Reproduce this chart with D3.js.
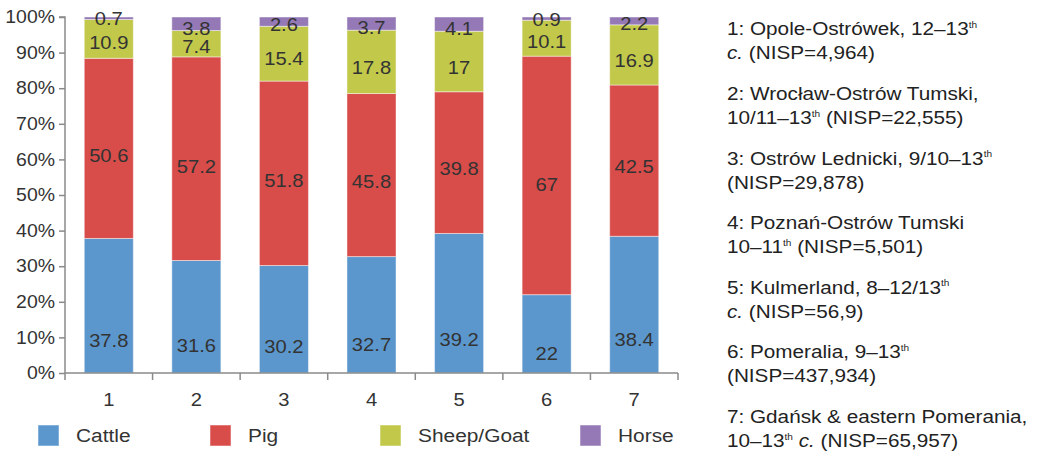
<!DOCTYPE html>
<html>
<head>
<meta charset="utf-8">
<script src="https://cdn.jsdelivr.net/npm/d3@7/dist/d3.min.js"></script>
<style>
  html, body { margin: 0; padding: 0; background: #fff; }
  svg { display: block; font-family: "Liberation Sans", Arial, sans-serif; }
</style>
</head>
<body>
<svg id="chart" width="1037" height="451"></svg>
<script>
const categories = ["1", "2", "3", "4", "5", "6", "7"];
const seriesNames = ["Cattle", "Pig", "Sheep/Goat", "Horse"];
const cattle = [37.8, 31.6, 30.2, 32.7, 39.2, 22, 38.4];
const pig = [50.6, 57.2, 51.8, 45.8, 39.8, 67, 42.5];
const sheepGoat = [10.9, 7.4, 15.4, 17.8, 17, 10.1, 16.9];
const horse = [0.7, 3.8, 2.6, 3.7, 4.1, 0.9, 2.2];
const yTicks = [0, 10, 20, 30, 40, 50, 60, 70, 80, 90, 100];
const siteNotes = [
  [[["1: Opole-Ostrówek, 12–13", ""], ["th", "sup"]], [["c.", "i"], [" (NISP=4,964)", ""]]],
  [[["2: Wrocław-Ostrów Tumski,", ""]], [["10/11–13", ""], ["th", "sup"], [" (NISP=22,555)", ""]]],
  [[["3: Ostrów Lednicki, 9/10–13", ""], ["th", "sup"]], [["(NISP=29,878)", ""]]],
  [[["4: Poznań-Ostrów Tumski", ""]], [["10–11", ""], ["th", "sup"], [" (NISP=5,501)", ""]]],
  [[["5: Kulmerland, 8–12/13", ""], ["th", "sup"]], [["c.", "i"], [" (NISP=56,9)", ""]]],
  [[["6: Pomeralia, 9–13", ""], ["th", "sup"]], [["(NISP=437,934)", ""]]],
  [[["7: Gdańsk & eastern Pomerania,", ""]], [["10–13", ""], ["th", "sup"], [" ", ""], ["c.", "i"], [" (NISP=65,957)", ""]]]
];

const colors = ["#5b97cd", "#d84c4a", "#c1c84a", "#9479b6"];
const labelFrac = [0.24, 0.46, 0.4, 0.15];
const SX = 1.12;

function stretch(sel, sx) {
  sel.each(function () {
    const t = d3.select(this);
    const x0 = +t.attr("x") || 0;
    t.attr("transform", `translate(${x0},0) scale(${sx},1) translate(${-x0},0)`);
  });
}

const svg = d3.select("#chart");
const margin = { left: 65, top: 17, right: 678, bottom: 373 };

const x = d3.scaleBand().domain(categories).range([margin.left, margin.right]).paddingInner(0.44).paddingOuter(0.22);
const xEdges = d3.scaleBand().domain(categories).range([margin.left, margin.right]).padding(0);
const y = d3.scaleLinear().domain([0, 100]).range([margin.bottom, margin.top]);

const rows = categories.map((c, i) => ({ cat: c, Cattle: cattle[i], Pig: pig[i], "Sheep/Goat": sheepGoat[i], Horse: horse[i] }));
const stacked = d3.stack().keys(seriesNames)(rows);

// Bars
const g = svg.append("g");
stacked.forEach((layer, si) => {
  g.append("g").selectAll("rect").data(layer).join("rect")
    .attr("x", d => x(d.data.cat))
    .attr("width", x.bandwidth())
    .attr("y", d => y(Math.min(d[1], 100)))
    .attr("height", d => y(d[0]) - y(Math.min(d[1], 100)))
    .attr("fill", colors[si])
    .attr("stroke", "#ffffff")
    .attr("stroke-opacity", 0.45)
    .attr("stroke-width", 1);
});

// Labels
stacked.forEach((layer, si) => {
  const lab = g.append("g").selectAll("text").data(layer).join("text")
    .attr("x", d => x(d.data.cat) + x.bandwidth() / 2)
    .attr("y", d => y(d[0] + (d[1] - d[0]) * labelFrac[si]))
    .attr("dy", "0.35em")
    .attr("text-anchor", "middle")
    .attr("font-size", 18)
    .attr("fill", "#333")
    .text(d => String(d.data[seriesNames[si]]));
  stretch(lab, SX);
});

// Y axis
const yAxis = d3.axisLeft(y).tickValues(yTicks).tickFormat(d => d + "%").tickSize(6).tickPadding(4);
const yg = svg.append("g").attr("transform", `translate(${margin.left},0)`).call(yAxis);
yg.selectAll("path, line").attr("stroke", "#8a8a8a").attr("stroke-width", 1.5);
yg.select(".domain").attr("d", `M-6,${y(100)}H0V${y(0)}`);
yg.selectAll("text").attr("font-size", 18).attr("fill", "#333").attr("font-family", "Liberation Sans, Arial, sans-serif");
stretch(yg.selectAll("text"), 1.08);

// X axis
const xAxis = d3.axisBottom(xEdges).tickSize(0).tickPadding(20);
const xg = svg.append("g").attr("transform", `translate(0,${margin.bottom})`).call(xAxis);
xg.select(".domain").attr("stroke", "#8a8a8a").attr("stroke-width", 1.5).attr("d", `M${margin.left},0H${margin.right}`);
xg.selectAll("text").attr("font-size", 18).attr("fill", "#333").attr("font-family", "Liberation Sans, Arial, sans-serif");
stretch(xg.selectAll("text"), SX);
const edges = categories.map(c => xEdges(c)).concat([xEdges(categories[categories.length - 1]) + xEdges.bandwidth()]);
xg.append("g").selectAll("line").data(edges).join("line")
  .attr("x1", d => d).attr("x2", d => d).attr("y1", 0).attr("y2", 7)
  .attr("stroke", "#8a8a8a").attr("stroke-width", 1.5);

// Legend
const legendX = [38, 210, 380, 580];
const lg = svg.append("g");
seriesNames.forEach((n, i) => {
  lg.append("rect").attr("x", legendX[i]).attr("y", 425).attr("width", 21).attr("height", 21)
    .attr("fill", colors[i]).attr("stroke", "#fff").attr("stroke-opacity", 0.5);
  const t = lg.append("text").attr("x", legendX[i] + 38).attr("y", 436).attr("dy", "0.35em")
    .attr("font-size", 18).attr("fill", "#333").text(n);
  stretch(t, 1.16);
});

// Site notes
const notes = svg.append("g");
siteNotes.forEach((lines, gi) => {
  lines.forEach((parts, li) => {
    const t = notes.append("text")
      .attr("x", 727)
      .attr("y", 29 + gi * 64.6 + li * 24)
      .attr("dy", "0.35em")
      .attr("font-size", 18.5)
      .attr("fill", "#222");
    parts.forEach(([txt, style]) => {
      const ts = t.append("tspan").text(txt);
      if (style === "i") ts.attr("font-style", "italic");
      if (style === "sup") {
        ts.attr("font-size", 9).attr("baseline-shift", "8");
      }
    });
    stretch(t, 1.12);
  });
});
</script>
</body>
</html>
